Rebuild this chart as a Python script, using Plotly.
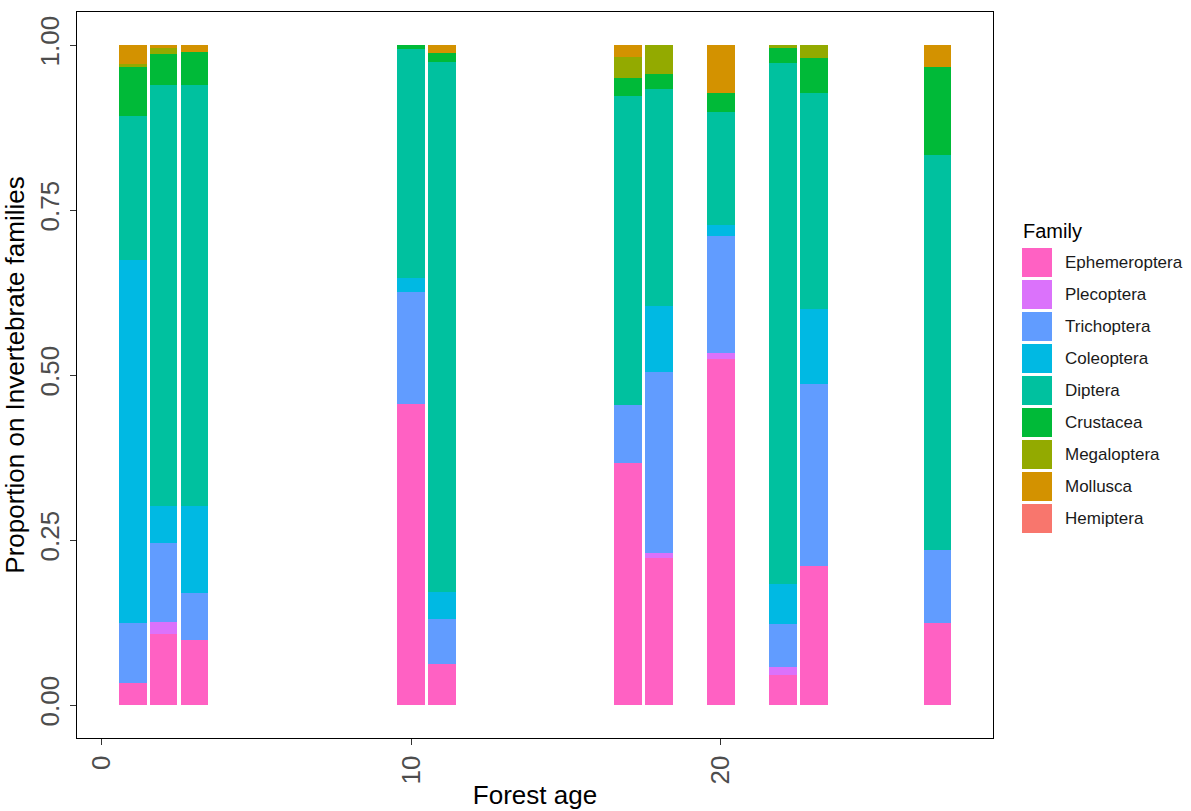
import plotly.graph_objects as go

# ---- data ----
forest_age = [1, 2, 3, 10, 11, 17, 18, 20, 22, 23, 27]

families = ["Ephemeroptera", "Plecoptera", "Trichoptera", "Coleoptera", "Diptera",
            "Crustacea", "Megaloptera", "Mollusca", "Hemiptera"]

ephemeroptera = [0.034, 0.108, 0.099, 0.456, 0.062, 0.366, 0.223, 0.525, 0.045, 0.210, 0.125]
plecoptera    = [0.0,   0.018, 0.0,   0.0,   0.0,   0.0,   0.008, 0.009, 0.012, 0.0,   0.0]
trichoptera   = [0.090, 0.120, 0.070, 0.170, 0.068, 0.088, 0.273, 0.177, 0.065, 0.277, 0.110]
coleoptera    = [0.550, 0.056, 0.133, 0.021, 0.041, 0.0,   0.100, 0.016, 0.061, 0.113, 0.0]
diptera       = [0.219, 0.638, 0.638, 0.347, 0.803, 0.469, 0.330, 0.172, 0.789, 0.328, 0.598]
crustacea     = [0.073, 0.047, 0.050, 0.006, 0.014, 0.027, 0.022, 0.028, 0.024, 0.053, 0.133]
megaloptera   = [0.005, 0.008, 0.0,   0.0,   0.0,   0.032, 0.044, 0.0,   0.004, 0.019, 0.0]
mollusca      = [0.029, 0.005, 0.010, 0.0,   0.012, 0.018, 0.0,   0.073, 0.0,   0.0,   0.034]
hemiptera     = [0.0] * 11

series = [ephemeroptera, plecoptera, trichoptera, coleoptera, diptera,
          crustacea, megaloptera, mollusca, hemiptera]

colors = ["#FF61C3", "#DB72FB", "#619CFF", "#00B9E3", "#00C19F",
          "#00BA38", "#93AA00", "#D39200", "#F8766D"]

y_ticks = [0, 0.25, 0.5, 0.75, 1.0]
y_ticklabels = ["0.00", "0.25", "0.50", "0.75", "1.00"]
x_ticks = [0, 10, 20]
x_ticklabels = ["0", "10", "20"]

# ---- figure ----
W, H = 1191, 811
ML, MR, MT, MB = 77, 198, 12, 73
fig = go.Figure()
for name, vals, col in zip(families, series, colors):
    fig.add_trace(go.Bar(
        x=forest_age,
        y=[v if v > 0 else None for v in vals],
        name=name,
        marker=dict(color=col, line=dict(width=0)),
        width=0.9,
        showlegend=False,
    ))

FONT = "Liberation Sans, Arial, sans-serif"
fig.update_layout(
    width=W, height=H, autosize=False,
    margin=dict(l=ML, r=MR, t=MT, b=MB, pad=0),
    barmode="stack",
    plot_bgcolor="white", paper_bgcolor="white",
    font=dict(family=FONT, color="black"),
)
fig.update_xaxes(
    range=[-0.795, 28.795], tickvals=x_ticks, ticktext=x_ticklabels,
    tickangle=-90, ticks="outside", ticklen=6, tickcolor="#333333", tickwidth=1.2,
    tickfont=dict(size=26, color="#4D4D4D", family=FONT),
    showline=True, linecolor="black", linewidth=1.3, mirror=True,
    showgrid=False, zeroline=False, automargin=False,
    title=dict(text="Forest age", font=dict(size=26, color="black", family=FONT), standoff=2),
)
fig.update_yaxes(
    range=[-0.05, 1.05], tickvals=y_ticks, ticktext=y_ticklabels,
    tickangle=-90, ticks="outside", ticklen=6, tickcolor="#333333", tickwidth=1.2,
    tickfont=dict(size=26, color="#4D4D4D", family=FONT),
    showline=True, linecolor="black", linewidth=1.3, mirror=True,
    showgrid=False, zeroline=False, automargin=False,
    title=dict(text="Proportion on Invertebrate families",
               font=dict(size=26, color="black", family=FONT), standoff=4),
)

# ---- legend (manual, ggplot style) ----
pw, ph = W - ML - MR, H - MT - MB
def px(x):
    return (x - ML) / pw
def py(y):
    return (H - MB - y) / ph

fig.add_annotation(x=px(1021), y=py(231), xref="paper", yref="paper", text="Family",
                   showarrow=False, xanchor="left", yanchor="middle",
                   font=dict(size=20, color="black", family=FONT))
for i, (name, col) in enumerate(zip(families, colors)):
    top = 248 + 32 * i
    fig.add_shape(type="rect", xref="paper", yref="paper",
                  x0=px(1022), x1=px(1052), y0=py(top + 29), y1=py(top),
                  fillcolor=col, line=dict(color="white", width=0))
    fig.add_annotation(x=px(1063), y=py(top + 14.5), xref="paper", yref="paper",
                       text=name, showarrow=False, xanchor="left", yanchor="middle",
                       font=dict(size=17, color="#1A1A1A", family=FONT))

fig.write_html("out.html")
